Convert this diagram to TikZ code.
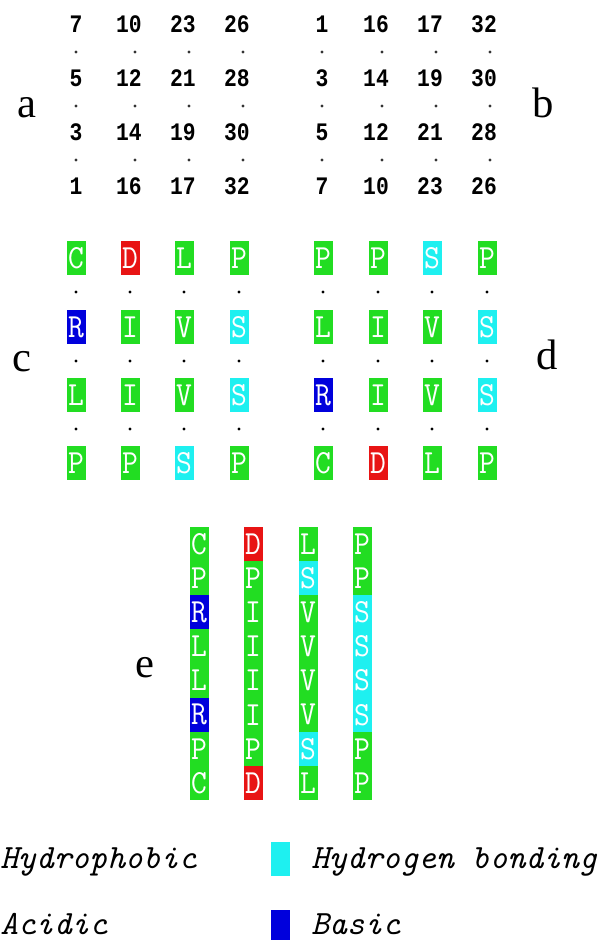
\documentclass[tikz,border=0pt]{standalone}
\usepackage{graphicx}
\usepackage{fontspec}
\setmainfont{Liberation Serif}
\newfontfamily\monof{Liberation Mono}
\definecolor{hgreen}{RGB}{34,221,34}
\definecolor{hred}{RGB}{232,20,20}
\definecolor{hcyan}{RGB}{30,240,240}
\definecolor{hblue}{RGB}{0,0,220}
\begin{document}
\begin{tikzpicture}[x=0.75pt,y=-0.75pt,
  num/.style={font=\monof\bfseries\fontsize{16}{16}\selectfont, inner sep=0pt, anchor=base},
  res/.style={minimum width=14.25pt, minimum height=25.5pt, inner sep=0pt, text=white,
    font=\ttfamily\fontsize{23}{23}\selectfont},
  cell/.style={res, minimum height=25.6pt},
  G/.style={fill=hgreen}, Rd/.style={fill=hred}, Cy/.style={fill=hcyan}, Bl/.style={fill=hblue},
  lab/.style={font=\fontsize{32}{32}\selectfont, inner sep=0pt, anchor=base},
  sdot/.style={circle, fill=black, inner sep=0pt, minimum size=2.4pt},
  gdot/.style={circle, fill=black!80, inner sep=0pt, minimum size=2.4pt},
  leg/.style={font=\ttfamily\itshape\fontsize{25.5}{25.5}\selectfont, anchor=base west, inner sep=0pt},
  legbox/.style={minimum width=14.25pt, minimum height=25.5pt, inner sep=0pt, anchor=north west}]
\useasboundingbox (0,0) rectangle (609,940);
\newcommand{\vs}[1]{\scalebox{1}[1.18]{#1}}
\newcommand{\vr}[1]{\scalebox{1}[1.1]{#1}}
% panel labels
\node[lab] (la) at (27,117) {a};
\node[lab] (lb) at (543,117) {b};
\node[lab] (lc) at (22,371) {c};
\node[lab] (ld) at (547,369) {d};
\node[lab] (le) at (145,677) {e};
% panel a numbers
\foreach \r/\y/\a/\b/\c/\d in {1/32/7/10/23/26, 2/86/5/12/21/28, 3/140/3/14/19/30, 4/194/1/16/17/32}{
  \node[num] (a\r c1) at (76,\y) {\vs{\a}};
  \node[num] (a\r c2) at (129,\y) {\vs{\b}};
  \node[num] (a\r c3) at (183,\y) {\vs{\c}};
  \node[num] (a\r c4) at (237,\y) {\vs{\d}};
}
\foreach \r/\y/\a/\b/\c/\d in {1/32/1/16/17/32, 2/86/3/14/19/30, 3/140/5/12/21/28, 4/194/7/10/23/26}{
  \node[num] (b\r c1) at (322,\y) {\vs{\a}};
  \node[num] (b\r c2) at (376,\y) {\vs{\b}};
  \node[num] (b\r c3) at (430,\y) {\vs{\c}};
  \node[num] (b\r c4) at (484,\y) {\vs{\d}};
}
\foreach \k/\y in {1/52,2/106,3/160}{
  \foreach \i/\x in {1/76,2/135,3/189,4/243,5/322,6/382,7/436,8/490}{
    \node[gdot] (ab\k d\i) at (\x,\y) {};
  }
}
% panel c / d residues
\foreach \r/\y/\a/\ca/\b/\cb/\c/\cc/\d/\cd in {
  1/258/C/G/D/Rd/L/G/P/G,
  2/327/R/Bl/I/G/V/G/S/Cy,
  3/395/L/G/I/G/V/G/S/Cy,
  4/463/P/G/P/G/S/Cy/P/G}{
  \node[res,\ca] (c\r c1) at (76,\y) {\vr{\a}};
  \node[res,\cb] (c\r c2) at (130,\y) {\vr{\b}};
  \node[res,\cc] (c\r c3) at (184,\y) {\vr{\c}};
  \node[res,\cd] (c\r c4) at (239,\y) {\vr{\d}};
}
\foreach \r/\y/\a/\ca/\b/\cb/\c/\cc/\d/\cd in {
  1/258/P/G/P/G/S/Cy/P/G,
  2/327/L/G/I/G/V/G/S/Cy,
  3/395/R/Bl/I/G/V/G/S/Cy,
  4/463/C/G/D/Rd/L/G/P/G}{
  \node[res,\ca] (d\r c1) at (323,\y) {\vr{\a}};
  \node[res,\cb] (d\r c2) at (378,\y) {\vr{\b}};
  \node[res,\cc] (d\r c3) at (432,\y) {\vr{\c}};
  \node[res,\cd] (d\r c4) at (487,\y) {\vr{\d}};
}
\foreach \k/\y in {1/292,2/361,3/429}{
  \foreach \i/\x in {1/76,2/130,3/184,4/239,5/323,6/378,7/432,8/487}{
    \node[sdot] (cd\k d\i) at (\x,\y) {};
  }
}
% panel e columns
\foreach \col/\x/\seq in {
  1/199/{C/G,P/G,R/Bl,L/G,L/G,R/Bl,P/G,C/G},
  2/253/{D/Rd,P/G,I/G,I/G,I/G,I/G,P/G,D/Rd},
  3/308/{L/G,S/Cy,V/G,V/G,V/G,V/G,S/Cy,L/G},
  4/362/{P/G,P/G,S/Cy,S/Cy,S/Cy,S/Cy,P/G,P/G}}{
  \foreach \t/\f [count=\n] in \seq {
    \node[cell,\f] (e\col r\n) at (\x,{527+34.15*(\n-0.5)}) {\vr{\t}};
  }
}
% legend
\node[leg] (lh) at (0,868) {Hydrophobic};
\node[legbox,Cy] (kc) at (271,842) {};
\node[leg] (lhb) at (311,868) {Hydrogen bonding};
\node[leg] (lac) at (0,934) {Acidic};
\node[legbox,Bl] (kb) at (271,910) {};
\node[leg] (lba) at (311,934) {Basic};
\end{tikzpicture}
\end{document}
